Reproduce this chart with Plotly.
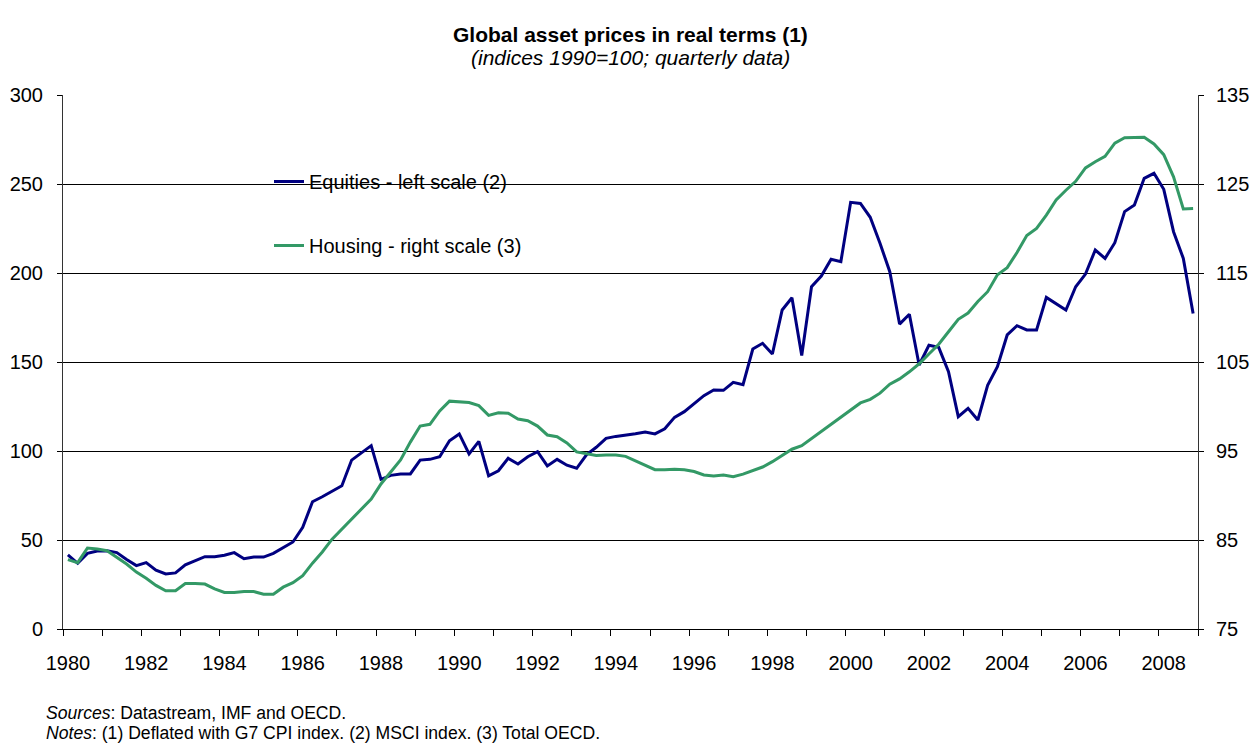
import plotly.graph_objects as go

# Categories: quarterly data 1980Q1 - 2008Q4
years = list(range(1980, 2009))
quarters = [1, 2, 3, 4]

# Equities (MSCI, deflated, 1990=100) - left scale
equities = [
    41.6, 36.9, 42.5, 43.8, 44.0, 42.9, 39.1, 35.6, 37.3, 33.1, 30.9, 31.5, 36.0, 38.4, 40.6, 40.6, 41.4, 42.9, 39.5, 40.4,
    40.4, 42.5, 45.9, 48.9, 57.1, 71.5, 74.3, 77.2, 80.5, 94.9, 98.7, 103.0, 84.1, 86.3, 87.1, 87.1, 94.9, 95.3, 96.8, 105.8, 109.6,
    98.3, 105.4, 86.1, 88.9, 95.9, 92.7, 96.8, 99.6, 91.6, 95.3, 92.0, 90.3, 97.8, 102.1, 107.1, 108.2, 108.8, 109.7, 110.7,
    109.6, 112.5, 118.9, 122.1, 126.8, 131.1, 134.3, 134.1, 138.6, 137.3, 157.3, 160.5, 154.5, 179.2, 186.1, 153.6, 192.3, 198.3, 207.7, 206.4,
    239.7, 239.1, 231.3, 216.7, 200.7, 171.3, 176.8, 148.3, 159.4, 158.2, 144.6, 119.3, 124.0, 117.4, 136.9, 147.4, 165.2, 170.4,
    168.0, 168.0, 186.3, 182.8, 179.2, 192.3, 199.4, 212.9, 208.2, 217.0, 234.5, 238.2, 253.2, 256.0, 247.0, 223.2, 208.2, 177.3,
]

# Housing (total OECD, deflated, 1990=100) - right scale
housing = [
    82.8, 82.45, 84.1, 84.0, 83.8, 83.1, 82.3, 81.4, 80.7, 79.9, 79.3, 79.3, 80.1, 80.1, 80.05, 79.5, 79.1, 79.1, 79.2, 79.2,
    78.9, 78.9, 79.7, 80.2, 81.0, 82.4, 83.65, 85.1, 86.2, 87.3, 88.5, 89.6, 91.3, 92.7, 94.0, 96.0, 97.8, 98.0, 99.5, 100.6, 100.5,
    100.45, 100.1, 99.0, 99.3, 99.25, 98.6, 98.4, 97.8, 96.8, 96.6, 95.9, 94.9, 94.7, 94.5, 94.55, 94.55, 94.4, 93.9, 93.35,
    92.9, 92.9, 92.95, 92.9, 92.7, 92.3, 92.2, 92.3, 92.1, 92.4, 92.8, 93.2, 93.8, 94.5, 95.2, 95.6, 96.4, 97.1, 97.9, 98.8,
    99.5, 100.4, 100.8, 101.5, 102.5, 103.1, 103.9, 104.8, 105.9, 107.0, 108.4, 109.8, 110.5, 111.8, 112.9, 114.8, 115.6, 117.3,
    119.2, 120.0, 121.5, 123.2, 124.3, 125.3, 126.8, 127.5, 128.1, 129.6, 130.2, 130.2, 130.25, 129.5, 128.3, 125.8, 122.2, 122.25,
]

tick_years = list(range(1980, 2010, 2))
tick_labels = [str(y) for y in tick_years]
minor_years = list(range(1980, 2010))

title = "<b>Global asset prices in real terms (1)</b>"
subtitle = "<i>(indices 1990=100; quarterly data)</i>"
sources = "<i>Sources</i>: Datastream, IMF and OECD."
notes = "<i>Notes</i>: (1) Deflated with G7 CPI index. (2) MSCI index. (3) Total OECD."

FONT = "Arial, Liberation Sans, sans-serif"
BLUE = "#000080"
GREEN = "#339966"

# quarter centres on a continuous time axis
x = [y + (q - 0.5) / 4 for y in years for q in quarters]

fig = go.Figure()
fig.add_trace(go.Scatter(x=x, y=equities, mode="lines", name="Equities - left scale (2)",
                         line=dict(color=BLUE, width=3), yaxis="y", legendgroup="a"))
fig.add_trace(go.Scatter(x=x, y=housing, mode="lines", name="Housing - right scale (3)",
                         line=dict(color=GREEN, width=3), yaxis="y2", legendgroup="b"))

L, R, T, B = 63, 52, 95, 116
W, H = 1250, 745
pw, ph = W - L - R, H - T - B

def px_x(p):
    return (p - L) / pw

def px_y(p):
    return (H - B - p) / ph

fig.update_layout(
    width=W, height=H, autosize=False,
    margin=dict(l=L, r=R, t=T, b=B, pad=0, autoexpand=False),
    paper_bgcolor="white", plot_bgcolor="white",
    font=dict(family=FONT, size=20, color="black"),
    showlegend=True,
    legend=dict(x=px_x(269), y=px_y(162), xanchor="left", yanchor="top",
                bgcolor="rgba(0,0,0,0)", font=dict(size=20), tracegroupgap=35,
                itemwidth=30),
    xaxis=dict(range=[1980, 2009], tickmode="array", automargin=False,
               tickvals=[y + 0.125 for y in tick_years], ticktext=tick_labels,
               ticks="", showgrid=False, zeroline=False,
               showline=True, linecolor="black", linewidth=1,
               ticklabelstandoff=16,
               minor=dict(tickmode="array", tickvals=minor_years, ticks="outside",
                          ticklen=6, tickcolor="black", tickwidth=1, showgrid=False)),
    yaxis=dict(range=[0, 300], tickmode="linear", tick0=0, dtick=50, automargin=False,
               showgrid=True, gridcolor="black", gridwidth=1, zeroline=False,
               showline=True, linecolor="#333333", linewidth=1,
               ticks="outside", ticklen=5, tickcolor="black", ticklabelstandoff=10),
    yaxis2=dict(range=[75, 135], tickmode="linear", tick0=75, dtick=10, automargin=False,
                overlaying="y", side="right", showgrid=False, zeroline=False,
                showline=True, linecolor="#333333", linewidth=1,
                ticks="outside", ticklen=5, tickcolor="black", ticklabelstandoff=8),
    shapes=[dict(type="rect", xref="paper", yref="paper",
                 x0=px_x(213), x1=px_x(580), y0=px_y(292), y1=px_y(160),
                 fillcolor="white", line=dict(width=0), layer="between")],
    annotations=[
        dict(text=title, xref="paper", yref="paper", x=0.5, y=px_y(34), xanchor="center",
             yanchor="middle", showarrow=False, font=dict(size=21)),
        dict(text=subtitle, xref="paper", yref="paper", x=0.5, y=px_y(58), xanchor="center",
             yanchor="middle", showarrow=False, font=dict(size=21)),
        dict(text=sources, xref="paper", yref="paper", x=px_x(44), y=px_y(713), xanchor="left",
             yanchor="middle", showarrow=False, font=dict(size=17.6)),
        dict(text=notes, xref="paper", yref="paper", x=px_x(44), y=px_y(733), xanchor="left",
             yanchor="middle", showarrow=False, font=dict(size=17.6)),
    ],
)

fig.write_html(
    "out.html",
    default_width="1250px",
    default_height="745px",
    config={"responsive": False, "displayModeBar": False},
    post_script="document.body.style.margin='0';document.body.style.overflow='hidden';",
)
